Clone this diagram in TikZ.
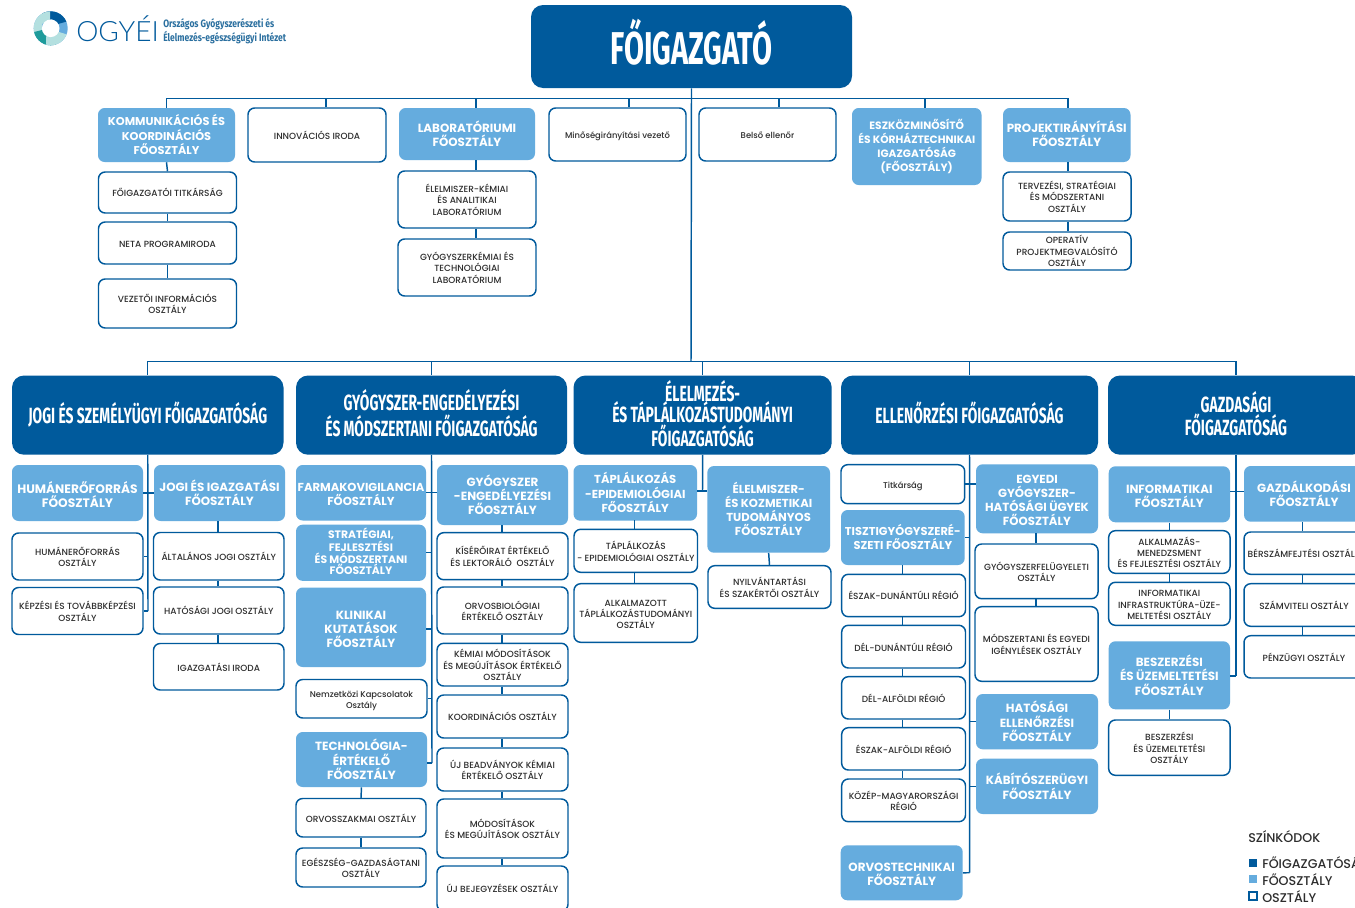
\documentclass[tikz,border=0pt]{standalone}
\usepackage{fontspec}
\setmainfont{Poppins Medium}[BoldFont={Poppins Bold}]
\newfontfamily\headfont[FakeStretch=0.63]{Fira Sans}
\newfontfamily\smallcond[FakeStretch=0.8]{Fira Sans}
\newfontfamily\thinfont{Lato Light}
\definecolor{dblue}{RGB}{0,90,156}
\definecolor{lblue}{RGB}{101,172,222}
\definecolor{ink}{RGB}{45,45,45}
\definecolor{tealA}{RGB}{30,155,155}
\definecolor{tealB}{RGB}{180,224,224}
\definecolor{logotext}{RGB}{42,111,159}
\newcommand{\tsh}{0}
\newcommand{\topr}{1.25}
\newcommand{\botr}{.55}
\tikzset{
  x=0.75pt,y=-0.75pt,
  tsh/.code={\def\tsh{#1}},
  rules/.code 2 args={\def\topr{#1}\def\botr{#2}},
  conn/.style={draw=dblue,line width=1.1pt},
  chiefbox/.style={fill=dblue,rounded corners=9pt,text=white,inner sep=0pt,align=center,font=\headfont\bfseries\fontsize{34.5}{38}\selectfont,tsh=2.25,rules={.9}{.2}},
  dirbox/.style={fill=dblue,rounded corners=9pt,text=white,inner sep=0pt,align=center,font=\headfont\bfseries\fontsize{16.5}{16.3}\selectfont,tsh=1.5,rules={1}{.3}},
  dptbox/.style={fill=lblue,rounded corners=5pt,text=white,inner sep=0pt,align=center,font=\bfseries\fontsize{8.9}{10.7}\selectfont,tsh=2},
  unitbox/.style={draw=dblue,line width=1.1pt,fill=white,rounded corners=5pt,text=ink,inner sep=0pt,align=center,font=\fontsize{6.7}{8.6}\selectfont,tsh=2},
  lowbox/.style={unitbox,font=\fontsize{6.3}{8.6}\selectfont},
  legtext/.style={anchor=west,inner sep=0pt,text=ink,font=\fontsize{9.5}{11}\selectfont},
}
\newcommand{\bx}[8][]{%
  \node[#2,minimum width={(#5-#3)*0.75pt},minimum height={(#6-#4)*0.75pt},#1] (#7) at ({(#3+#5)/2},{(#4+#6)/2})
  {\rule{0pt}{\dimexpr\topr em+\tsh pt\relax}#8\rule[-\botr em]{0pt}{\botr em}}}
\begin{document}
\begin{tikzpicture}
\path[use as bounding box,clip] (0,0) rectangle (1355,907);
\fill[white] (0,0) rectangle (1355,907);

% logo
\begin{scope}
\clip (50.7,28.3) circle[radius=12.75pt];
\fill[lblue] (30,5) rectangle (72,50);
\fill[dblue] (42,8) -- (72,8) -- (72,20) -- (58,24) -- (52,19) -- (43,21) -- cycle;
\fill[tealB] (30,5) -- (50,5) -- (50,19.5) -- (42,24) -- (42.5,33) -- (30,40) -- cycle;
\fill[tealA] (30,33) -- (42,30) -- (49,37.5) -- (58,47) -- (30,50) -- cycle;
\fill[tealB] (46,36.5) -- (59,32) -- (72,36) -- (72,50) -- (46,50) -- cycle;
\end{scope}
\fill[white] (50.7,28.3) circle[radius=6.6pt];
\node[inner sep=0pt,anchor=west,text=dblue,font=\thinfont\fontsize{21}{22}\selectfont] (ogyei) at (76,29) {OGYÉI};
\node[inner sep=0pt,anchor=west,align=left,text=logotext,font=\smallcond\bfseries\fontsize{8}{8.4}\selectfont] (intezet) at (163,31) {Országos Gyógyszerészeti és\\Élelmezés-egészségügyi Intézet};

% top level
\bx{chiefbox}{531}{5}{852}{88}{chief} {FŐIGAZGATÓ};
\bx[font=\bfseries\fontsize{8.5}{10.9}\selectfont]{dptbox}{98}{108}{235}{162}{komm} {KOMMUNIKÁCIÓS ÉS\\KOORDINÁCIÓS\\FŐOSZTÁLY};
\bx{unitbox}{248}{108}{386}{162}{innov} {INNOVÁCIÓS IRODA};
\bx{dptbox}{399}{108}{535}{160}{labor} {LABORATÓRIUMI\\FŐOSZTÁLY};
\bx{lowbox}{549}{108}{686}{161}{minoseg} {Minőségirányítási vezető};
\bx{lowbox}{699}{108}{836}{161}{belso} {Belső ellenőr};
\bx[font=\bfseries\fontsize{8}{10.5}\selectfont,tsh=1]{dptbox}{852}{108}{981.5}{185}{eszkoz} {ESZKÖZMINŐSÍTŐ\\ÉS KÓRHÁZTECHNIKAI\\IGAZGATÓSÁG\\(FŐOSZTÁLY)};
\bx[tsh=1]{dptbox}{1003}{108}{1130.5}{162}{proj} {PROJEKTIRÁNYÍTÁSI\\FŐOSZTÁLY};
\bx{unitbox}{98.5}{172}{236.5}{213}{titkar} {FŐIGAZGATÓI TITKÁRSÁG};
\bx{unitbox}{98.5}{222}{236.5}{264}{neta} {NETA PROGRAMIRODA};
\bx{unitbox}{98.5}{279}{236.5}{328}{vezetoi} {VEZETŐI INFORMÁCIÓS\\OSZTÁLY};
\bx{unitbox}{398}{171}{536}{228}{elelmkem} {ÉLELMISZER-KÉMIAI\\ÉS ANALITIKAI\\LABORATÓRIUM};
\bx{unitbox}{398}{239}{536}{296}{gyogykem} {GYÓGYSZERKÉMIAI ÉS\\TECHNOLÓGIAI\\LABORATÓRIUM};
\bx{unitbox}{1003}{172}{1131}{221}{terv} {TERVEZÉSI, STRATÉGIAI\\ÉS MÓDSZERTANI\\OSZTÁLY};
\bx[rules={.9}{.2}]{unitbox}{1003}{232}{1131}{270}{oper} {OPERATÍV\\PROJEKTMEGVALÓSÍTÓ\\OSZTÁLY};

% directorates
\bx{dirbox}{12}{375.5}{283.5}{454.7}{djogi} {JOGI ÉS SZEMÉLYÜGYI FŐIGAZGATÓSÁG};
\bx{dirbox}{296}{375.5}{567}{454.7}{dgyogy} {GYÓGYSZER-ENGEDÉLYEZÉSI\\[1.7pt]ÉS MÓDSZERTANI FŐIGAZGATÓSÁG};
\bx{dirbox}{573.5}{375.5}{831.7}{454.7}{delel} {ÉLELMEZÉS-\\ÉS TÁPLÁLKOZÁSTUDOMÁNYI\\FŐIGAZGATÓSÁG};
\bx{dirbox}{841}{375.5}{1098}{454.7}{dell} {ELLENŐRZÉSI FŐIGAZGATÓSÁG};
\bx{dirbox}{1108}{375.5}{1364}{454.7}{dgazd} {GAZDASÁGI\\FŐIGAZGATÓSÁG};

% Jogi
\bx[font=\bfseries\fontsize{9.2}{10.7}\selectfont,tsh=5]{dptbox}{12}{465}{143}{521}{humf} {HUMÁNERŐFORRÁS\\FŐOSZTÁLY};
\bx{dptbox}{154}{465}{285}{521}{jogif} {JOGI ÉS IGAZGATÁSI\\FŐOSZTÁLY};
\bx{unitbox}{12}{533}{143}{580}{humo} {HUMÁNERŐFORRÁS\\OSZTÁLY};
\bx{unitbox}{12}{587.5}{143}{634.5}{kepz} {KÉPZÉSI ÉS TOVÁBBKÉPZÉSI\\OSZTÁLY};
\bx{unitbox}{153.5}{532.5}{284}{580}{altal} {ÁLTALÁNOS JOGI OSZTÁLY};
\bx{unitbox}{153.5}{587}{284}{634}{hatjog} {HATÓSÁGI JOGI OSZTÁLY};
\bx{unitbox}{153.5}{643.5}{284}{690}{igazg} {IGAZGATÁSI IRODA};

% Gyogyszer
\bx[font=\bfseries\fontsize{8.7}{10.7}\selectfont,tsh=3]{dptbox}{296}{465}{426}{520.5}{farma} {FARMAKOVIGILANCIA\\FŐOSZTÁLY};
\bx[font=\bfseries\fontsize{8.1}{8.8}\selectfont,tsh=0]{dptbox}{296}{525}{426}{580.5}{strat} {STRATÉGIAI,\\FEJLESZTÉSI\\ÉS MÓDSZERTANI\\FŐOSZTÁLY};
\bx[tsh=3]{dptbox}{296}{587.5}{426}{667}{klin} {KLINIKAI\\KUTATÁSOK\\FŐOSZTÁLY};
\bx{lowbox}{296}{679.5}{427}{718}{nemz} {Nemzetközi Kapcsolatok\\Osztály};
\bx{dptbox}{296}{732}{427}{787}{tech} {TECHNOLÓGIA-\\ÉRTÉKELŐ\\FŐOSZTÁLY};
\bx{unitbox}{296}{798.5}{426}{837}{orvsz} {ORVOSSZAKMAI OSZTÁLY};
\bx{unitbox}{296}{848}{426}{887}{egesz} {EGÉSZSÉG-GAZDASÁGTANI\\OSZTÁLY};
\bx{dptbox}{437}{465}{568}{525}{engedf} {GYÓGYSZER\\-ENGEDÉLYEZÉSI\\FŐOSZTÁLY};
\bx{unitbox}{437}{532.7}{568}{579.7}{kiser} {KÍSÉRŐIRAT ÉRTÉKELŐ\\ÉS LEKTORÁLÓ~ OSZTÁLY};
\bx{unitbox}{437}{587}{568}{634}{orvbio} {ORVOSBIOLÓGIAI\\ÉRTÉKELŐ OSZTÁLY};
\bx{unitbox}{437}{643.3}{568}{686}{kemiai} {KÉMIAI MÓDOSÍTÁSOK\\ÉS MEGÚJÍTÁSOK ÉRTÉKELŐ\\OSZTÁLY};
\bx{unitbox}{437}{695}{568}{738}{koord} {KOORDINÁCIÓS OSZTÁLY};
\bx{unitbox}{437}{748}{568}{791}{ujbe} {ÚJ BEADVÁNYOK KÉMIAI\\ÉRTÉKELŐ OSZTÁLY};
\bx{unitbox}{437}{799}{568}{858}{modos} {MÓDOSÍTÁSOK\\ÉS MEGÚJÍTÁSOK OSZTÁLY};
\bx{unitbox}{437}{866}{568}{911}{ujbej} {ÚJ BEJEGYZÉSEK OSZTÁLY};

% Elelmezes
\bx[font=\bfseries\fontsize{8.7}{10.7}\selectfont]{dptbox}{573.5}{465}{697}{520.7}{taplf} {TÁPLÁLKOZÁS\\-EPIDEMIOLÓGIAI\\FŐOSZTÁLY};
\bx[font=\bfseries\fontsize{8.7}{10.5}\selectfont]{dptbox}{707.3}{466}{830}{552.7}{elelf} {ÉLELMISZER-\\ÉS KOZMETIKAI\\TUDOMÁNYOS\\FŐOSZTÁLY};
\bx{unitbox}{574}{529.3}{697.5}{572.3}{taplo} {TÁPLÁLKOZÁS\\- EPIDEMIOLÓGIAI OSZTÁLY};
\bx{unitbox}{574}{583.7}{697.5}{642.3}{alkal} {ALKALMAZOTT\\TÁPLÁLKOZÁSTUDOMÁNYI\\OSZTÁLY};
\bx{unitbox}{708}{565.7}{831}{608.3}{nyilv} {NYILVÁNTARTÁSI\\ÉS SZAKÉRTŐI OSZTÁLY};

% Ellenorzes
\bx{lowbox}{841}{464.7}{964.7}{503.7}{titk} {Titkárság};
\bx[font=\bfseries\fontsize{8.8}{10.6}\selectfont]{dptbox}{976}{464.3}{1098}{533.3}{egyedf} {EGYEDI\\GYÓGYSZER-\\HATÓSÁGI ÜGYEK\\FŐOSZTÁLY};
\bx[font=\bfseries\fontsize{8.55}{10.7}\selectfont]{dptbox}{841}{510}{964.7}{565}{tisztf} {TISZTIGYÓGYSZERÉ-\\SZETI FŐOSZTÁLY};
\bx{unitbox}{841.7}{574.3}{965.5}{616.7}{eszd} {ÉSZAK-DUNÁNTÚLI RÉGIÓ};
\bx{unitbox}{841.7}{625.3}{965.5}{668}{deld} {DÉL-DUNÁNTÚLI RÉGIÓ};
\bx{unitbox}{841.7}{676.7}{965.5}{719}{dela} {DÉL-ALFÖLDI RÉGIÓ};
\bx{unitbox}{841.7}{727.7}{965.5}{770}{esza} {ÉSZAK-ALFÖLDI RÉGIÓ};
\bx{unitbox}{841.7}{779}{965.5}{821.7}{kozep} {KÖZÉP-MAGYARORSZÁGI\\RÉGIÓ};
\bx{unitbox}{975}{544}{1098}{598.7}{gyfel} {GYÓGYSZERFELÜGYELETI\\OSZTÁLY};
\bx{unitbox}{975}{606.7}{1098}{681.3}{modsz} {MÓDSZERTANI ÉS EGYEDI\\IGÉNYLÉSEK OSZTÁLY};
\bx{dptbox}{976}{694}{1098}{749.3}{hatf} {HATÓSÁGI\\ELLENŐRZÉSI\\FŐOSZTÁLY};
\bx[tsh=2.2]{dptbox}{976}{758.7}{1098}{814}{kabf} {KÁBÍTÓSZERÜGYI\\FŐOSZTÁLY};
\bx[tsh=2]{dptbox}{840.7}{845.3}{962.7}{900.3}{orvtf} {ORVOSTECHNIKAI\\FŐOSZTÁLY};

% Gazdasagi
\bx[tsh=3]{dptbox}{1108.7}{466.3}{1230}{522.3}{inff} {INFORMATIKAI\\FŐOSZTÁLY};
\bx{dptbox}{1244}{466}{1364}{521.7}{gazdf} {GAZDÁLKODÁSI\\FŐOSZTÁLY};
\bx{unitbox}{1108.7}{530.7}{1230}{573.3}{alkm} {ALKALMAZÁS-\\MENEDZSMENT\\ÉS FEJLESZTÉSI OSZTÁLY};
\bx{unitbox}{1108.7}{582.3}{1230}{625.3}{infra} {INFORMATIKAI\\INFRASTRUKTÚRA-ÜZE-\\MELTETÉSI OSZTÁLY};
\bx{dptbox}{1108.7}{641.3}{1230}{709.3}{beszf} {BESZERZÉSI\\ÉS ÜZEMELTETÉSI\\FŐOSZTÁLY};
\bx{unitbox}{1108.7}{720}{1230}{775.3}{beszo} {BESZERZÉSI\\ÉS ÜZEMELTETÉSI\\OSZTÁLY};
\bx{unitbox}{1244}{532}{1364}{574.3}{bersz} {BÉRSZÁMFEJTÉSI OSZTÁLY};
\bx{unitbox}{1244}{583.7}{1364}{626.3}{szamv} {SZÁMVITELI OSZTÁLY};
\bx{unitbox}{1244}{635.7}{1364}{678}{penz} {PÉNZÜGYI OSZTÁLY};

% connectors: top
\coordinate (busTop) at (691,98.5);
\coordinate (busLow) at (691,361.7);
\draw[conn] (chief.south) -- (busLow);
\coordinate (dInnov) at (326,98.5);
\coordinate (dLab) at (476,98.5);
\coordinate (dMin) at (629,98.5);
\coordinate (dBel) at (779,98.5);
\coordinate (dEsz) at (925,98.5);
\coordinate (dPro) at (1068,98.5);
\draw[conn] (komm.north) -- (komm.north |- busTop) -- (dPro) -- (dPro |- proj.north);
\draw[conn] (dInnov) -- (dInnov |- innov.north);
\draw[conn] (dLab) -- (dLab |- labor.north);
\draw[conn] (dMin) -- (dMin |- minoseg.north);
\draw[conn] (dBel) -- (dBel |- belso.north);
\draw[conn] (dEsz) -- (dEsz |- eszkoz.north);
\draw[conn] (komm.south) -- (titkar.north);
\draw[conn] (titkar.south) -- (neta.north);
\draw[conn] (neta.south) -- (vezetoi.north);
\coordinate (cLab) at (476,160);
\draw[conn] (cLab) -- (cLab |- elelmkem.north);
\draw[conn] (cLab |- elelmkem.south) -- (cLab |- gyogykem.north);
\coordinate (cPro) at (1068,162);
\draw[conn] (cPro) -- (cPro |- terv.north);
\draw[conn] (cPro |- terv.south) -- (cPro |- oper.north);
% connectors: lower bus
\draw[conn] (djogi.north) -- (djogi.north |- busLow) -- (dgazd.north |- busLow) -- (dgazd.north);
\draw[conn] (dgyogy.north |- busLow) -- (dgyogy.north);
\draw[conn] (delel.north |- busLow) -- (delel.north);
\draw[conn] (dell.north |- busLow) -- (dell.north);
% Jogi
\coordinate (tJ) at (148,611);
\draw[conn] (djogi.south) -- (tJ);
\draw[conn] (humf.east) -- (jogif.west);
\draw[conn] (humo.east) -- (humo.east -| tJ);
\draw[conn] (kepz.east) -- (tJ);
\coordinate (cJ) at (218,521);
\draw[conn] (cJ) -- (cJ |- altal.north);
\draw[conn] (cJ |- altal.south) -- (cJ |- hatjog.north);
\draw[conn] (cJ |- hatjog.south) -- (cJ |- igazg.north);
% Gyogyszer
\coordinate (tG) at (432,763);
\draw[conn] (dgyogy.south) -- (tG);
\coordinate (sG) at (432,492.7);
\draw[conn] (farma.east |- sG) -- (engedf.west |- sG);
\draw[conn] (strat.east) -- (strat.east -| tG);
\coordinate (sK) at (432,629);
\draw[conn] (klin.east |- sK) -- (sK);
\draw[conn] (nemz.east) -- (nemz.east -| tG);
\draw[conn] (tech.east |- tG) -- (tG);
\draw[conn] (tech.south) -- (orvsz.north);
\draw[conn] (orvsz.south) -- (egesz.north);
\coordinate (cG) at (502,525);
\draw[conn] (cG) -- (cG |- kiser.north);
\draw[conn] (cG |- kiser.south) -- (cG |- orvbio.north);
\draw[conn] (cG |- orvbio.south) -- (cG |- kemiai.north);
\draw[conn] (cG |- kemiai.south) -- (cG |- koord.north);
\draw[conn] (cG |- koord.south) -- (cG |- ujbe.north);
\draw[conn] (cG |- ujbe.south) -- (cG |- modos.north);
\draw[conn] (cG |- modos.south) -- (cG |- ujbej.north);
% Elelmezes
\coordinate (tE) at (702.5,491);
\draw[conn] (delel.south) -- (tE);
\draw[conn] (taplf.east |- tE) -- (elelf.west |- tE);
\coordinate (cT) at (634.7,520);
\draw[conn] (cT) -- (cT |- taplo.north);
\draw[conn] (cT |- taplo.south) -- (cT |- alkal.north);
\draw[conn] (elelf.south) -- (nyilv.north);
% Ellenorzes
\coordinate (tL) at (969.7,872.7);
\draw[conn] (dell.south) -- (tL);
\draw[conn] (titk.east) -- (titk.east -| egyedf.west);
\draw[conn] (tisztf.east) -- (tisztf.east -| tL);
\draw[conn] (hatf.west) -- (hatf.west -| tL);
\draw[conn] (kabf.west) -- (kabf.west -| tL);
\draw[conn] (orvtf.east) -- (tL);
\coordinate (cE) at (902.7,565);
\draw[conn] (cE) -- (cE |- eszd.north);
\draw[conn] (cE |- eszd.south) -- (cE |- deld.north);
\draw[conn] (cE |- deld.south) -- (cE |- dela.north);
\draw[conn] (cE |- dela.south) -- (cE |- esza.north);
\draw[conn] (cE |- esza.south) -- (cE |- kozep.north);
\coordinate (cF) at (1036,533);
\draw[conn] (cF) -- (cF |- gyfel.north);
\draw[conn] (cF |- gyfel.south) -- (cF |- modsz.north);
% Gazdasagi
\coordinate (tZ) at (1236,676);
\draw[conn] (dgazd.south) -- (tZ);
\coordinate (sZ) at (1236,491.3);
\draw[conn] (inff.east |- sZ) -- (gazdf.west |- sZ);
\draw[conn] (beszf.east |- tZ) -- (tZ);
\draw[conn] (inff.south) -- (alkm.north);
\draw[conn] (alkm.south) -- (infra.north);
\draw[conn] (beszf.south) -- (beszo.north);
\coordinate (cZ) at (1302.3,522);
\draw[conn] (cZ) -- (cZ |- bersz.north);
\draw[conn] (cZ |- bersz.south) -- (cZ |- szamv.north);
\draw[conn] (cZ |- szamv.south) -- (cZ |- penz.north);

% legend
\node[legtext] (legt) at (1248,836.5) {SZÍNKÓDOK};
\node[fill=dblue,minimum size=6.6pt,inner sep=0pt] (leg1) at (1253,863) {};
\node[fill=lblue,minimum size=6.6pt,inner sep=0pt] (leg2) at (1253,879) {};
\node[draw=dblue,line width=1.3pt,fill=white,minimum size=5.5pt,inner sep=0pt] (leg3) at (1253,896) {};
\node[legtext] (legl1) at (1262,862.5) {FŐIGAZGATÓSÁG};
\node[legtext] (legl2) at (1262,879.5) {FŐOSZTÁLY};
\node[legtext] (legl3) at (1262,896.5) {OSZTÁLY};
\end{tikzpicture}
\end{document}
